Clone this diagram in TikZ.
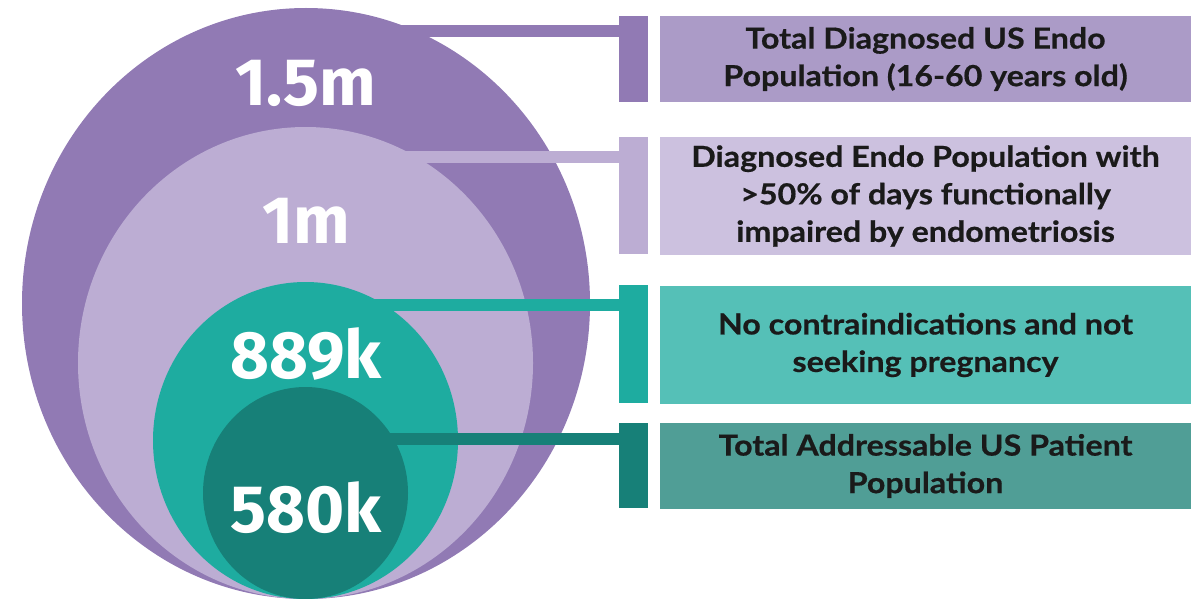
\documentclass[tikz,border=0pt]{standalone}
\usepackage{fontspec}
\usetikzlibrary{shapes.geometric}
\newfontfamily\lblfont{Lato}[FakeStretch=1.11, FakeBold=0.6]
\newfontfamily\numfont{Fira Sans}
\definecolor{pOuter}{RGB}{145,122,180}
\definecolor{pLight}{RGB}{188,173,211}
\definecolor{tMid}{RGB}{30,172,160}
\definecolor{tDark}{RGB}{23,128,120}
\definecolor{boxA}{RGB}{171,155,199}
\definecolor{boxB}{RGB}{204,193,223}
\definecolor{boxC}{RGB}{85,192,183}
\definecolor{boxD}{RGB}{80,158,150}
\definecolor{ink}{RGB}{26,26,26}
\tikzset{
  blob/.style={ellipse, draw=none, inner sep=0pt, outer sep=0pt},
  num/.style={text=white, font=\numfont\bfseries\fontsize{67}{67}\selectfont, anchor=base, inner sep=0pt},
  barbox/.style={rectangle, draw=none, inner sep=0pt, outer sep=0pt, minimum width=29pt},
  infobox/.style={rectangle, draw=none, inner sep=0pt, outer sep=0pt, minimum width=531pt,
     text=ink, align=center, font=\lblfont\bfseries\fontsize{29}{37.5}\selectfont},
  conn/.style={line width=12pt}
}
\begin{document}
\begin{tikzpicture}[x=1pt,y=-1pt]
\useasboundingbox (0,0) rectangle (1198,599);
% nested ellipses
\node[blob, fill=pOuter, minimum width=568pt, minimum height=591pt] (e1) at (306,303.5) {};
\node[blob, fill=pLight, minimum width=455pt, minimum height=472pt] (e2) at (305.5,363) {};
\node[blob, fill=tMid, minimum width=305pt, minimum height=317pt] (e3) at (305.5,440.5) {};
\node[blob, fill=tDark, minimum width=205pt, minimum height=212pt] (e4) at (305.5,493) {};
% numbers
\node[num] (n1) at (306,106) {1.5m};
\node[num] (n2) at (306,243) {1m};
\node[num] (n3) at (306,378) {889k};
\node[num] (n4) at (306,532) {580k};
% bars
\node[barbox, fill=pOuter, minimum height=86pt] (b1) at (633.5,59) {};
\node[barbox, fill=pLight, minimum height=117pt] (b2) at (633.5,195.5) {};
\node[barbox, fill=tMid, minimum height=118pt] (b3) at (633.5,344) {};
\node[barbox, fill=tDark, minimum height=85pt] (b4) at (633.5,465.5) {};
% boxes
\node[infobox, fill=boxA, minimum height=86pt] (t1) at (925.5,59) {Total Diagnosed US Endo\\Population (16-60 years old)};
\node[infobox, fill=boxB, minimum height=118pt] (t2) at (925.5,196) {Diagnosed Endo Population with\\>50\% of days functionally\\impaired by endometriosis};
\node[infobox, fill=boxC, minimum height=118pt] (t3) at (925.5,345) {No contraindications and not\\seeking pregnancy};
\node[infobox, fill=boxD, minimum height=86pt] (t4) at (925.5,466) {Total Addressable US Patient\\Population};
% connectors
\draw[conn, pOuter] (e1.center |- 0,31) -- (b1.west |- 0,31);
\draw[conn, pLight] (e2.center |- 0,157) -- (b2.west |- 0,157);
\draw[conn, tMid] (e3.center |- 0,304.5) -- (b3.west |- 0,304.5);
\draw[conn, tDark] (e4.center |- 0,438.5) -- (b4.west |- 0,438.5);
\end{tikzpicture}
\end{document}
